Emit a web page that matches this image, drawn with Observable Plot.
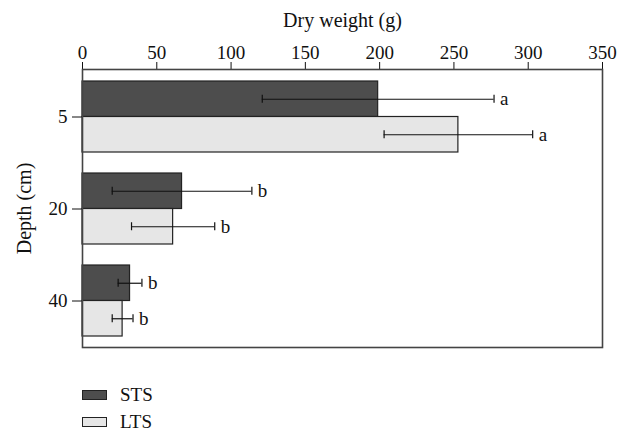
<!DOCTYPE html>
<html>
<head>
<meta charset="utf-8">
<script src="https://cdn.jsdelivr.net/npm/d3@7"></script>
<script src="https://cdn.jsdelivr.net/npm/@observablehq/plot@0.6"></script>
<style>
  html, body { margin: 0; padding: 0; background: #fff; }
  #wrap { position: relative; width: 628px; height: 434px; font-family: "Liberation Serif", "DejaVu Serif", serif; }
  #legend { position: absolute; left: 82px; top: 381px; font-size: 19px; color: #111; }
  .row { display: flex; align-items: center; height: 27px; }
  .sw { width: 23px; height: 8px; border: 1.5px solid #222; margin-right: 13px; }
  #chart svg [aria-label="x-axis label"], #chart svg [aria-label="y-axis label"] { font-size: 20px; }
</style>
</head>
<body>
<div id="wrap"><div id="chart"></div><div id="legend"></div></div>
<script>
const depths = ["5", "20", "40"];
const series = ["STS", "LTS"];
const colors = ["#4d4d4d", "#e6e6e6"];
const stsMean = [199, 67, 32];
const stsErr = [78, 47, 8];
const stsLetter = ["a", "b", "b"];
const ltsMean = [253, 61, 27];
const ltsErr = [50, 28, 7];
const ltsLetter = ["a", "b", "b"];
const xTicks = [0, 50, 100, 150, 200, 250, 300, 350];

const sts = depths.map((d, i) => ({depth: d, mean: stsMean[i], err: stsErr[i], letter: stsLetter[i]}));
const lts = depths.map((d, i) => ({depth: d, mean: ltsMean[i], err: ltsErr[i], letter: ltsLetter[i]}));

const BAND = 71, HALF = BAND / 2, Q = BAND / 4, CAP = 4;
const lo = r => r.mean - r.err, hi = r => r.mean + r.err;

function seriesMarks(data, fill, top) {
  const off = top ? -Q : Q;
  return [
    Plot.barX(data, {y: "depth", x: "mean", fill, stroke: "#222", strokeWidth: 1.2,
      insetTop: top ? 0 : HALF, insetBottom: top ? HALF : 0}),
    Plot.ruleY(data, {y: "depth", x1: lo, x2: hi, stroke: "#111", strokeWidth: 1.2, dy: off}),
    Plot.tickX(data, {y: "depth", x: lo, stroke: "#111", strokeWidth: 1.2,
      insetTop: top ? Q - CAP : HALF + Q - CAP, insetBottom: top ? HALF + Q - CAP : Q - CAP}),
    Plot.tickX(data, {y: "depth", x: hi, stroke: "#111", strokeWidth: 1.2,
      insetTop: top ? Q - CAP : HALF + Q - CAP, insetBottom: top ? HALF + Q - CAP : Q - CAP}),
    Plot.text(data, {y: "depth", x: hi, text: "letter", textAnchor: "start", dx: 6, dy: off, fontSize: 19, fill: "#111"})
  ];
}

const chart = Plot.plot({
  width: 628,
  height: 360,
  marginTop: 69,
  marginBottom: 13,
  marginLeft: 82,
  marginRight: 26,
  style: {fontFamily: "Liberation Serif, DejaVu Serif, serif", fontSize: "19px", color: "#111", background: "#fff"},
  x: {domain: [0, 350], axis: "top", ticks: xTicks, tickSize: 8, tickPadding: 3, label: "Dry weight (g)", labelAnchor: "center", labelArrow: "none", labelOffset: 57},
  y: {domain: depths, range: [81.3, 336.3], paddingInner: 21 / 92, paddingOuter: 0, tickSize: 10, tickPadding: 5, label: "Depth (cm)", labelAnchor: "center", labelOffset: 66},
  marks: [
    ...seriesMarks(sts, colors[0], true),
    ...seriesMarks(lts, colors[1], false),
    Plot.frame({stroke: "#444", strokeWidth: 1.6})
  ]
});
document.getElementById("chart").appendChild(chart);

const legend = document.getElementById("legend");
series.forEach((s, i) => {
  const row = document.createElement("div");
  row.className = "row";
  const sw = document.createElement("div");
  sw.className = "sw";
  sw.style.background = colors[i];
  const t = document.createElement("span");
  t.textContent = s;
  row.appendChild(sw); row.appendChild(t);
  legend.appendChild(row);
});
</script>
</body>
</html>
